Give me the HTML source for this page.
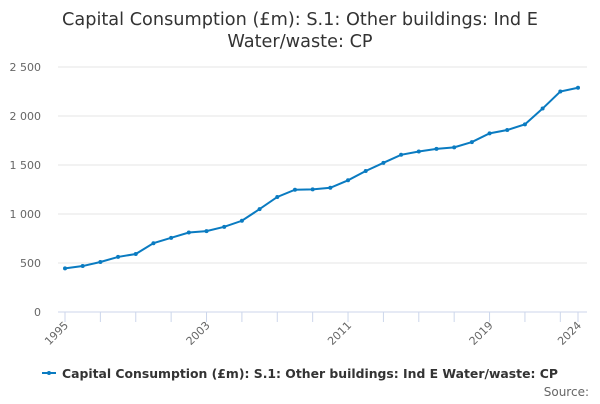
<!DOCTYPE html>
<html><head><meta charset="utf-8"><style>
body{margin:0;background:#fff;font-family:"DejaVu Sans","Liberation Sans",sans-serif;}
</style></head><body>
<svg id="chart" width="600" height="400" xmlns="http://www.w3.org/2000/svg">
<text x="300" y="25" text-anchor="middle" font-size="17.7" fill="#333">Capital Consumption (£m): S.1: Other buildings: Ind E</text>
<text x="300" y="47" text-anchor="middle" font-size="17.7" fill="#333">Water/waste: CP</text>
<g id="grid"></g><g id="xaxis"></g><g id="series"></g>
<g>
<line x1="42" y1="373" x2="56" y2="373" stroke="#0a7bc1" stroke-width="2"/>
<circle cx="49" cy="373" r="2" fill="#0a7bc1"/>
<text x="62" y="378" font-size="12.4" font-weight="bold" fill="#333">Capital Consumption (£m): S.1: Other buildings: Ind E Water/waste: CP</text>
</g>
<text x="589" y="396" text-anchor="end" font-size="12" fill="#666">Source:</text>
</svg>
<script>
const years=[1995,1996,1997,1998,1999,2000,2001,2002,2003,2004,2005,2006,2007,2008,2009,2010,2011,2012,2013,2014,2015,2016,2017,2018,2019,2020,2021,2022,2023,2024];
const values=[445,469,510,562,592,702,757,811,825,869,931,1050,1174,1248,1251,1268,1344,1439,1522,1604,1638,1665,1680,1734,1823,1857,1915,2076,2250,2288];
const yTicks=[0,500,1000,1500,2000,2500];
const yTickLabels=["0","500","1 000","1 500","2 000","2 500"];
const xLabelYears=[1995,2003,2011,2019,2024];
const NS="http://www.w3.org/2000/svg";
const X=y=>65+(y-1995)*(578-65)/29;
const Y=v=>312-v*(245/2500);
function mk(t,a,p){const e=document.createElementNS(NS,t);for(const k in a)e.setAttribute(k,a[k]);p.appendChild(e);return e;}
const grid=document.getElementById('grid');
yTicks.forEach((t,i)=>{
 const l=mk('line',{x1:58,x2:587,y1:Y(t),y2:Y(t),stroke:t===0?'#ccd6eb':'#e6e6e6','stroke-width':1},grid);
 
 
 const tx=mk('text',{x:41,y:Y(t)+4,'text-anchor':'end','font-size':11,fill:'#666'},grid);
 tx.textContent=yTickLabels[i];
 
 
});
const xa=document.getElementById('xaxis');
for(let y=1995;y<=2023;y+=2){
 const t=mk('line',{x1:X(y),x2:X(y),y1:312,y2:322,stroke:'#ccd6eb'},xa);
 
 
}
{const t=mk('line',{x1:X(2024),x2:X(2024),y1:312,y2:322,stroke:'#ccd6eb'},xa);

}
xLabelYears.forEach(y=>{
 const tx=mk('text',{x:X(y)+4,y:326,'text-anchor':'end','font-size':11,fill:'#666',transform:`rotate(-45 ${X(y)+4} 326)`},xa);
 tx.textContent=y;
 
 
});
const s=document.getElementById('series');
const pl=mk('polyline',{points:years.map((y,i)=>X(y)+','+Y(values[i])).join(' '),fill:'none',stroke:'#0a7bc1','stroke-width':2},s);


years.forEach((y,i)=>{
 const c=mk('circle',{cx:X(y),cy:Y(values[i]),r:2,fill:'#0a7bc1'},s);
 
 
});
</script>
</body></html>
